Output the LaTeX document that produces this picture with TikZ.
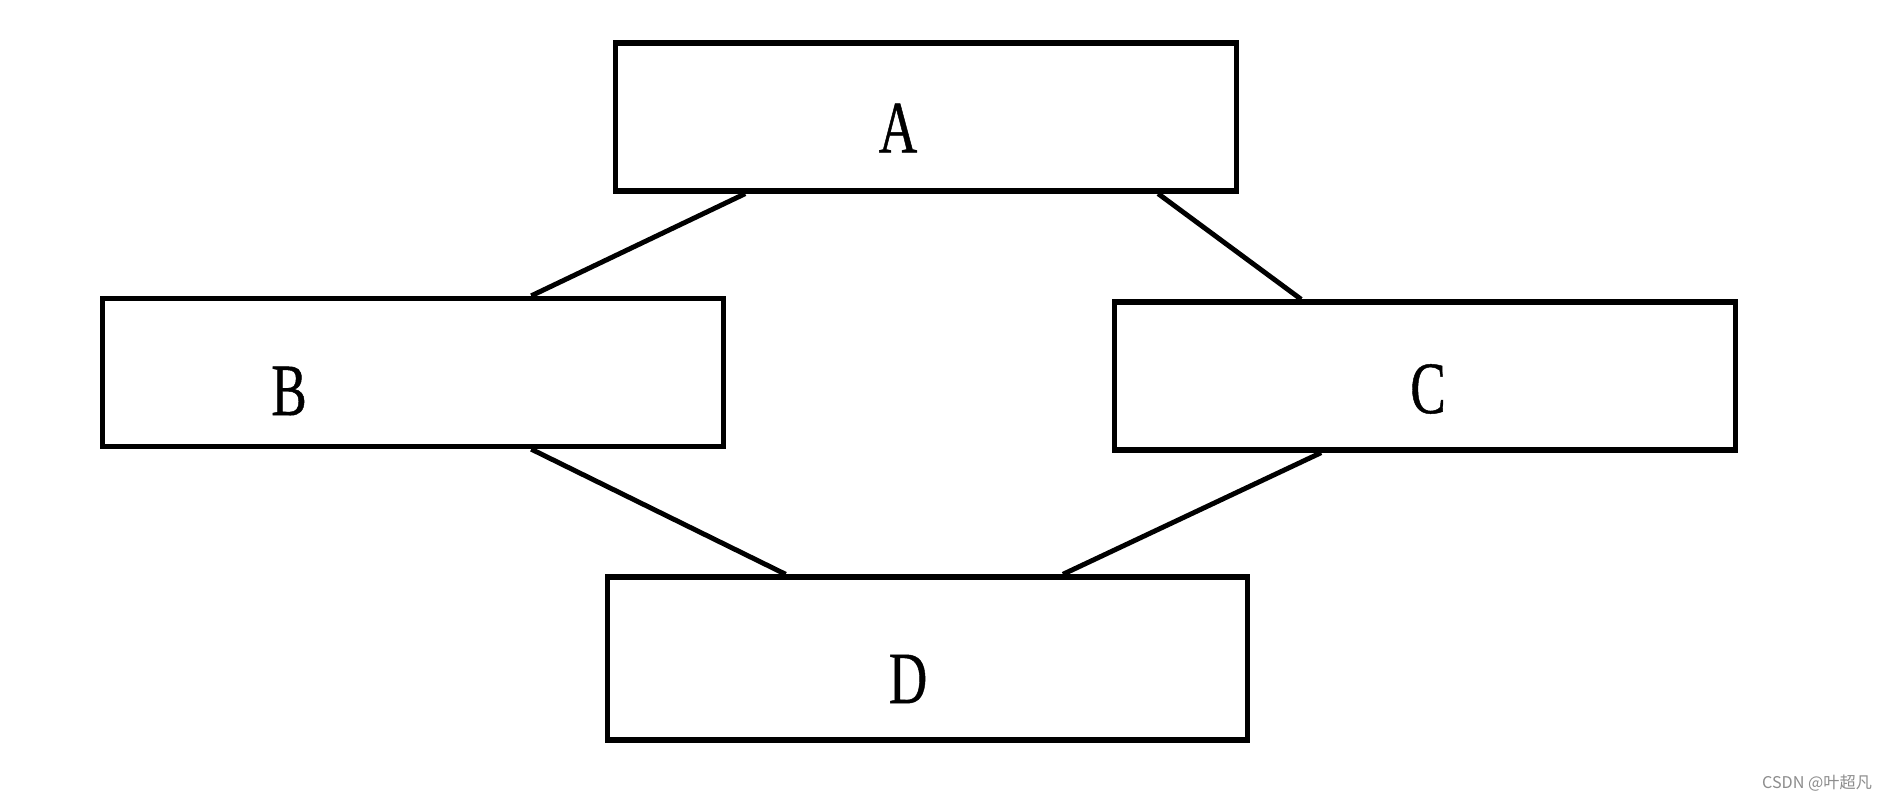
\documentclass[tikz,border=0pt]{standalone}
\usepackage{fontspec}
\usetikzlibrary{calc}
\newfontfamily\lblfont[FakeStretch=0.72, FakeBold=0.6]{Liberation Serif}
\newfontfamily\cjkfont{Noto Sans CJK SC}
\tikzset{
  box/.style={draw=black, line width=1.5pt, minimum width=6.2cm, minimum height=1.48cm, inner sep=0pt},
  lbl/.style={font=\lblfont\fontsize{21}{21}\selectfont, inner sep=0pt},
  link/.style={draw=black, line width=1.4pt}
}
\begin{document}
\begin{tikzpicture}[x=0.01cm, y=-0.01cm]
\useasboundingbox (0,0) rectangle (1880,801);
\fill[white] (0,0) rectangle (1880,801);
\node[box] (A) at (926,117) {};
\node[box] (B) at (413,372.5) {};
\node[box] (C) at (1425,376) {};
\node[box, minimum width=6.39cm, minimum height=1.63cm] (D) at (927.5,658.5) {};
\node[lbl] (Al) at (898,128) {A};
\node[lbl] (Bl) at (289,391) {B};
\node[lbl] (Cl) at (1428,389) {C};
\node[lbl] (Dl) at (908,679) {D};
\draw[link] ($(A.south west)!0.211!(A.south east)$) -- ($(B.north west)!0.689!(B.north east)$);
\draw[link] ($(A.south west)!0.871!(A.south east)$) -- ($(C.north west)!0.302!(C.north east)$);
\draw[link] ($(B.south west)!0.689!(B.south east)$) -- ($(D.north west)!0.280!(D.north east)$);
\draw[link] ($(C.south west)!0.334!(C.south east)$) -- ($(D.north west)!0.710!(D.north east)$);
\node[font=\cjkfont\fontsize{4.6}{4.6}\selectfont, text=black!45, inner sep=0pt] (wm) at (1817,783) {CSDN @叶超凡};
\end{tikzpicture}
\end{document}
